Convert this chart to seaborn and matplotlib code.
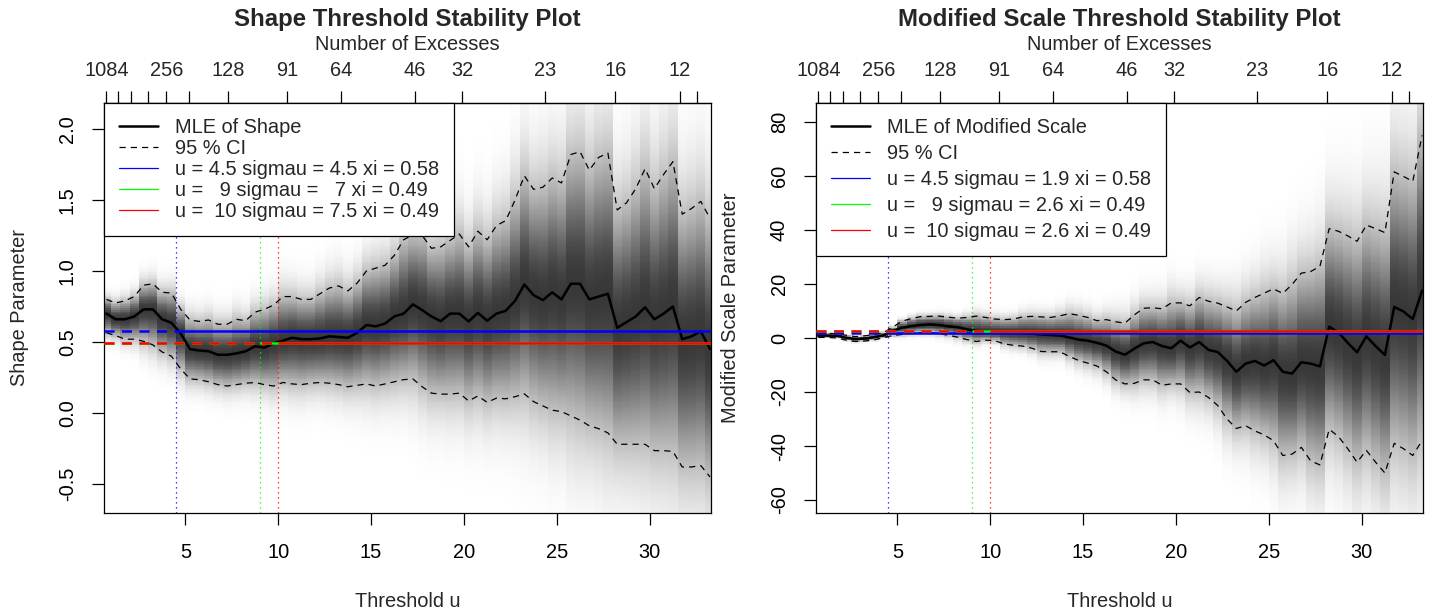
import numpy as np
import matplotlib
matplotlib.use("Agg")
import matplotlib.pyplot as plt
from matplotlib.lines import Line2D
import seaborn as sns

# ---------------------------------------------------------------- data
thresholds = [0.75, 1.25, 1.75, 2.25, 2.75, 3.25, 3.75, 4.25, 4.75, 5.25,
              5.75, 6.25, 6.75, 7.25, 7.75, 8.25, 8.75, 9.25, 9.75, 10.25,
              10.75, 11.25, 11.75, 12.25, 12.75, 13.25, 13.75, 14.25, 14.75, 15.25,
              15.75, 16.25, 16.75, 17.25, 17.75, 18.25, 18.75, 19.25, 19.75, 20.25,
              20.75, 21.25, 21.75, 22.25, 22.75, 23.25, 23.75, 24.25, 24.75, 25.25,
              25.75, 26.25, 26.75, 27.25, 27.75, 28.25, 28.75, 29.25, 29.75, 30.25,
              30.75, 31.25, 31.75, 32.25, 32.75, 33.25]

shape_mle = [0.70, 0.66, 0.66, 0.68, 0.73, 0.73, 0.66, 0.635, 0.56, 0.45,
             0.44, 0.435, 0.41, 0.41, 0.42, 0.435, 0.47, 0.46, 0.49, 0.51,
             0.53, 0.52, 0.52, 0.525, 0.54, 0.535, 0.53, 0.565, 0.62, 0.61,
             0.63, 0.68, 0.70, 0.765, 0.725, 0.68, 0.647, 0.70, 0.70, 0.645,
             0.705, 0.65, 0.70, 0.72, 0.79, 0.905, 0.83, 0.795, 0.85, 0.80,
             0.91, 0.91, 0.80, 0.82, 0.84, 0.60, 0.64, 0.68, 0.745, 0.66,
             0.70, 0.75, 0.52, 0.54, 0.575, 0.45]
shape_upper = [0.80, 0.775, 0.79, 0.82, 0.90, 0.91, 0.85, 0.845, 0.73, 0.655,
               0.645, 0.655, 0.625, 0.625, 0.66, 0.65, 0.71, 0.73, 0.76, 0.82,
               0.82, 0.80, 0.80, 0.84, 0.88, 0.895, 0.86, 0.915, 1.00, 1.02,
               1.04, 1.11, 1.22, 1.255, 1.25, 1.16, 1.17, 1.215, 1.26, 1.17,
               1.28, 1.22, 1.32, 1.355, 1.50, 1.67, 1.575, 1.59, 1.655, 1.62,
               1.82, 1.84, 1.71, 1.80, 1.83, 1.43, 1.48, 1.58, 1.72, 1.58,
               1.68, 1.77, 1.40, 1.44, 1.49, 1.37]
shape_lower = [0.565, 0.545, 0.52, 0.52, 0.505, 0.48, 0.43, 0.40, 0.31, 0.24,
               0.235, 0.22, 0.20, 0.19, 0.20, 0.21, 0.215, 0.20, 0.19, 0.215,
               0.205, 0.20, 0.21, 0.215, 0.21, 0.20, 0.185, 0.195, 0.205, 0.19,
               0.205, 0.22, 0.235, 0.24, 0.185, 0.14, 0.133, 0.133, 0.14, 0.085,
               0.12, 0.075, 0.105, 0.10, 0.115, 0.135, 0.08, 0.05, 0.02, 0.01,
               -0.02, -0.05, -0.09, -0.11, -0.14, -0.22, -0.22, -0.22, -0.22, -0.265,
               -0.265, -0.27, -0.38, -0.38, -0.37, -0.45]

scale_mle = [0.9, 0.9, 0.8, 0.1, -0.4, -0.2, 0.3, 1.0, 2.6, 3.8,
             4.4, 4.8, 5.0, 4.8, 4.3, 4.0, 3.2, 2.6, 2.4, 2.2,
             2.0, 1.9, 1.8, 1.6, 1.3, 1.1, 0.9, 0.2, -0.6, -1.0,
             -1.8, -2.8, -5.0, -6.2, -4.0, -2.0, -1.5, -3.0, -3.8, -1.0,
             -3.5, -1.5, -4.4, -5.2, -8.5, -12.5, -9.5, -8.5, -10.2, -8.2,
             -12.5, -13.2, -9.0, -9.5, -10.5, 4.2, 2.0, -1.8, -5.3, 0.6,
             -3.0, -6.3, 11.5, 9.8, 7.0, 17.5]
scale_upper = [1.8, 1.7, 1.6, 1.0, 0.5, 0.8, 1.3, 2.0, 4.0, 6.2,
               7.2, 7.9, 8.0, 8.1, 7.7, 7.3, 7.6, 8.1, 7.6, 7.0,
               6.8, 7.0, 7.8, 8.0, 7.8, 7.6, 8.2, 9.0, 8.4, 7.6,
               6.4, 6.8, 6.0, 5.5, 8.5, 11.0, 11.2, 10.8, 13.0, 13.0,
               11.9, 15.0, 13.6, 12.9, 11.5, 10.0, 13.2, 15.0, 16.6, 18.2,
               16.5, 19.8, 24.0, 24.6, 26.5, 40.5, 39.5, 37.8, 35.8, 41.8,
               40.5, 39.0, 61.5, 59.8, 58.0, 75.0]
scale_lower = [0.2, 0.2, 0.0, -0.8, -1.3, -1.1, -0.7, 0.1, 0.9, 1.3,
               1.7, 2.0, 2.0, 1.6, 1.0, 0.3, -0.6, -1.3, -0.8, -1.0,
               -2.2, -2.7, -3.0, -3.8, -5.0, -5.1, -5.1, -6.8, -8.3, -9.3,
               -10.4, -12.5, -15.5, -17.0, -16.8, -15.5, -15.5, -17.5, -17.0, -17.0,
               -20.2, -20.0, -22.0, -25.0, -30.0, -33.5, -32.5, -34.4, -35.9, -38.0,
               -43.5, -43.0, -40.5, -45.5, -47.0, -33.8, -36.5, -41.0, -46.0, -41.6,
               -46.0, -50.0, -39.0, -41.0, -43.5, -38.0]

# candidate thresholds with their fitted parameters
chosen_u = [4.5, 9, 10]
chosen_sigmau = [4.5, 7, 7.5]
chosen_modscale = [1.9, 2.6, 2.6]
chosen_xi = [0.58, 0.49, 0.49]
chosen_colors = ["#0000FF", "#00FF00", "#FF0000"]

# top axis: number of excesses above the threshold
excess_u = [0.75, 1.40, 2.09, 2.99, 3.98, 5.17, 7.29, 10.48, 13.38, 17.34,
            19.90, 24.36, 28.15, 31.63, 32.55]
excess_labels = ["1084", "", "", "", "256", "", "128", "91", "64", "46",
                 "32", "23", "16", "12", ""]

x_ticks = [5, 10, 15, 20, 25, 30]
shape_ticks = [-0.5, 0.0, 0.5, 1.0, 1.5, 2.0]
shape_ticklabels = ["-0.5", "0.0", "0.5", "1.0", "1.5", "2.0"]
scale_ticks = [-60, -40, -20, 0, 20, 40, 60, 80]
scale_ticklabels = ["-60", "-40", "-20", "0", "20", "40", "60", "80"]

# ---------------------------------------------------------------- style
sns.set_style("ticks")
plt.rcParams["font.family"] = ["Liberation Sans", "DejaVu Sans"]
plt.rcParams["axes.unicode_minus"] = False

W, H = 1431, 616
PT = 0.72           # points per pixel at 100 dpi
FS = 20 * PT        # base text size
LW_THIN = 0.9
LW_THICK = 1.8

fig = plt.figure(figsize=(W / 100, H / 100), dpi=100)
fig.patch.set_facecolor("white")

XLIM = (0.62, 33.3)


def band_shading(ax, u, mle, lo, hi, ylim):
    """Grey density band around the estimate, one column per threshold."""
    u = np.asarray(u, float)
    mle = np.asarray(mle, float)
    lo = np.asarray(lo, float)
    hi = np.asarray(hi, float)
    mids = (u[:-1] + u[1:]) / 2
    xedges = np.concatenate([[u[0] - (u[1] - u[0]) / 2], mids,
                             [u[-1] + (u[-1] - u[-2]) / 2]])
    yedges = np.linspace(ylim[0], ylim[1], 231)
    yc = (yedges[:-1] + yedges[1:]) / 2
    above = yc[:, None] >= mle[None, :]
    half = np.where(above, (hi - mle)[None, :], (mle - lo)[None, :]) / 1.96
    half = np.maximum(half, 1e-9)
    z = (yc[:, None] - mle[None, :]) / half
    tone = 1 - 0.78 * np.exp(-0.5 * (z / 1.3) ** 2)
    ax.pcolormesh(xedges, yedges, tone, cmap="gray", vmin=0, vmax=1,
                  shading="flat", antialiased=False, linewidth=0, zorder=0)


def panel(left_px, mle, lo, hi, ylim, yticks, yticklabels, title, ylabel,
          mle_name, second_vals):
    ax = fig.add_axes([left_px / W, 1 - 513 / H, 607 / W, 410 / H])
    ax.set_facecolor("white")
    band_shading(ax, thresholds, mle, lo, hi, ylim)

    sns.lineplot(x=thresholds, y=mle, ax=ax, color="black", linewidth=LW_THICK,
                 estimator=None, sort=False, zorder=3)
    for series in (lo, hi):
        sns.lineplot(x=thresholds, y=series, ax=ax, color="black",
                     linewidth=LW_THIN, linestyle=(0, (5, 4)),
                     estimator=None, sort=False, zorder=3)

    for uv, col in zip(chosen_u, chosen_colors):
        ax.axvline(uv, color=col, linewidth=LW_THIN, linestyle=(0, (1, 3)),
                   zorder=2)
    for uv, val, col in zip(chosen_u, second_vals, chosen_colors):
        ax.hlines(val, XLIM[0], uv, colors=col, linewidth=LW_THICK,
                  linestyles=[(0, (4, 3))], zorder=4)
        ax.hlines(val, uv, XLIM[1], colors=col, linewidth=LW_THICK, zorder=4)

    ax.set_xlim(*XLIM)
    ax.set_ylim(*ylim)
    ax.set_xlabel("")
    ax.set_ylabel("")
    ax.set_xticks(x_ticks)
    ax.set_xticklabels([str(t) for t in x_ticks])
    ax.set_yticks(yticks)
    ax.set_yticklabels(yticklabels)
    ax.minorticks_off()
    ax.tick_params(axis="both", direction="out", length=12 * PT, width=LW_THIN,
                   color="black", labelsize=FS, labelcolor="black")
    ax.tick_params(axis="x", pad=18 * PT)
    ax.tick_params(axis="y", pad=15 * PT, labelrotation=90)
    for lab in ax.get_yticklabels():
        lab.set_verticalalignment("center")
    for sp in ax.spines.values():
        sp.set_visible(True)
        sp.set_color("black")
        sp.set_linewidth(LW_THIN)

    top = ax.secondary_xaxis("top")
    top.set_xticks(excess_u)
    top.set_xticklabels(excess_labels)
    top.tick_params(direction="out", length=12 * PT, width=LW_THIN,
                    color="black", labelsize=FS, pad=11 * PT)
    top.spines["top"].set_linewidth(LW_THIN)

    # legend
    labels = [mle_name, "95 % CI"]
    for uv, sv, xi in zip(chosen_u, chosen_sigmau if ylabel.startswith("Shape")
                          else chosen_modscale, chosen_xi):
        labels.append(f"u = {uv:>3g} sigmau = {sv:>3g} xi = {xi:.2f}")
    handles = [Line2D([], [], color="black", linewidth=LW_THICK),
               Line2D([], [], color="black", linewidth=LW_THIN,
                      linestyle=(0, (5, 4)))]
    handles += [Line2D([], [], color=c, linewidth=LW_THIN) for c in chosen_colors]
    return ax, handles, labels


cx_left = (104 + 711) / 2
cx_right = (816 + 1423) / 2

ax1, h1, l1 = panel(104, shape_mle, shape_lower, shape_upper, (-0.704, 2.183),
                    shape_ticks, shape_ticklabels,
                    "Shape Threshold Stability Plot", "Shape Parameter",
                    "MLE of Shape", chosen_xi)
leg1 = ax1.legend(h1, l1, loc="upper left", bbox_to_anchor=(0, 1),
                  borderaxespad=0, frameon=True, fancybox=False,
                  edgecolor="black", framealpha=1, fontsize=FS,
                  handlelength=1.95, handletextpad=0.85, borderpad=0.75,
                  labelspacing=0.1)
leg1.get_frame().set_linewidth(LW_THIN)
leg1.set_zorder(10)

ax2, h2, l2 = panel(816, scale_mle, scale_lower, scale_upper, (-64.8, 87.0),
                    scale_ticks, scale_ticklabels,
                    "Modified Scale Threshold Stability Plot",
                    "Modified Scale Parameter",
                    "MLE of Modified Scale", chosen_modscale)
leg2 = ax2.legend(h2, l2, loc="upper left", bbox_to_anchor=(0, 1),
                  borderaxespad=0, frameon=True, fancybox=False,
                  edgecolor="black", framealpha=1, fontsize=FS,
                  handlelength=1.95, handletextpad=0.85, borderpad=0.75,
                  labelspacing=0.35)
leg2.get_frame().set_linewidth(LW_THIN)
leg2.set_zorder(10)

# titles and axis titles
for cx, title, ylab, ylab_x in ((cx_left, "Shape Threshold Stability Plot",
                                 "Shape Parameter", 25),
                                (cx_right, "Modified Scale Threshold Stability Plot",
                                 "Modified Scale Parameter", 736)):
    fig.text(cx / W, 1 - 26 / H, title, ha="center", va="baseline",
             fontsize=24 * PT, fontweight="bold")
    fig.text(cx / W, 1 - 50 / H, "Number of Excesses", ha="center",
             va="baseline", fontsize=FS)
    fig.text(cx / W, 1 - 607 / H, "Threshold u", ha="center", va="baseline",
             fontsize=FS)
    fig.text(ylab_x / W, 1 - 308 / H, ylab, ha="center", va="baseline",
             rotation=90, rotation_mode="anchor", fontsize=FS)

fig.savefig("out.png", dpi=100, facecolor="white")
